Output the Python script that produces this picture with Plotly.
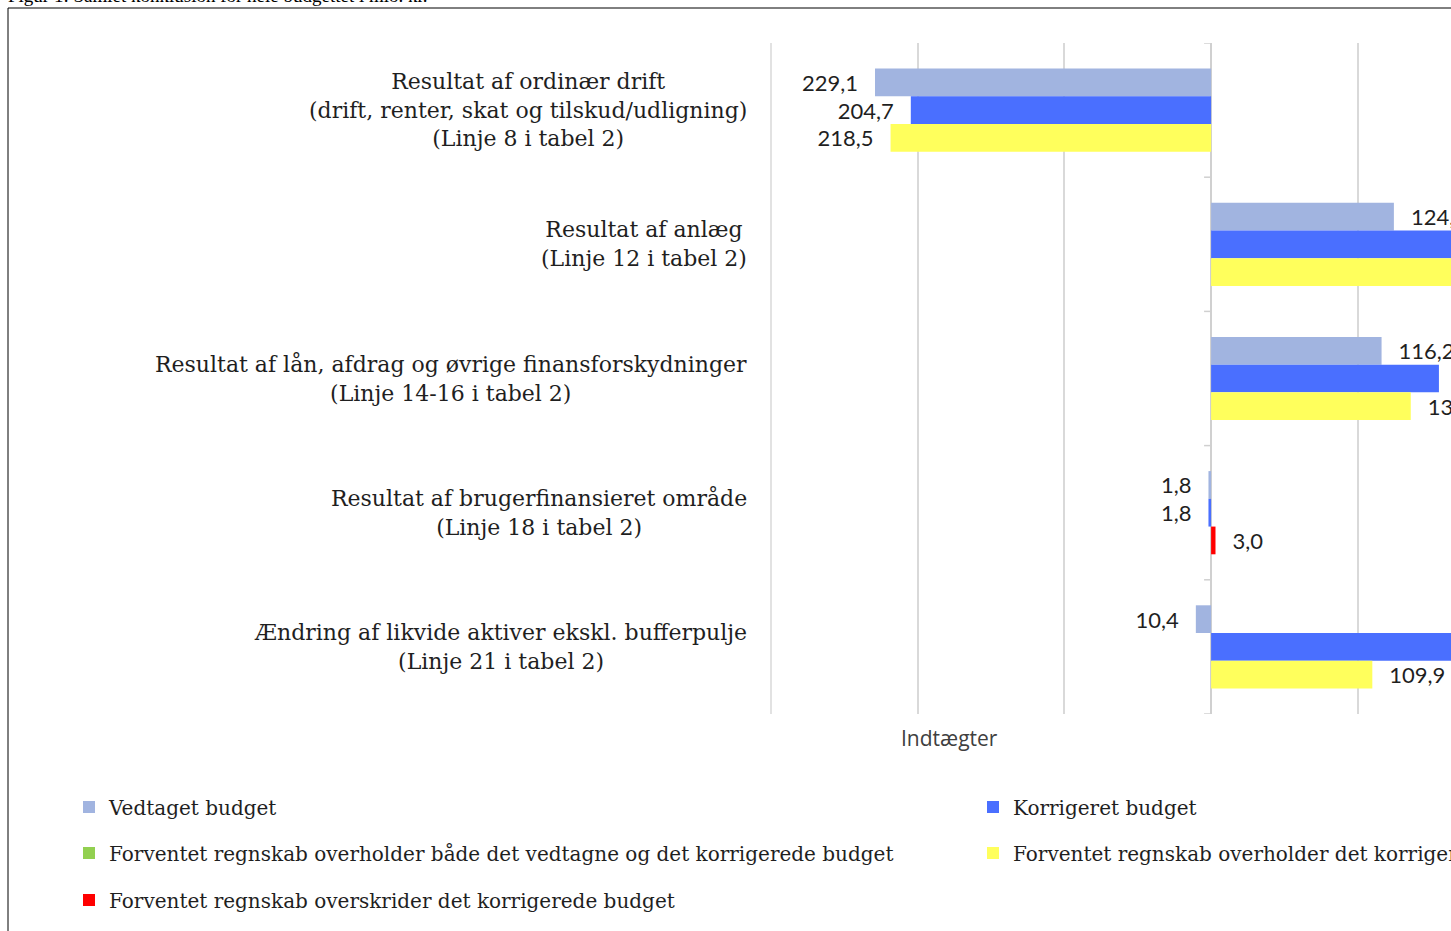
import plotly.graph_objects as go

# ---------------- data ----------------
categories = [
    "Resultat af ordinær drift<br>(drift, renter, skat og tilskud/udligning)<br>(Linje 8 i tabel 2)",
    "Resultat af anlæg<br>(Linje 12 i tabel 2)",
    "Resultat af lån, afdrag og øvrige finansforskydninger<br>(Linje 14-16 i tabel 2)",
    "Resultat af brugerfinansieret område<br>(Linje 18 i tabel 2)",
    "Ændring af likvide aktiver ekskl. bufferpulje<br>(Linje 21 i tabel 2)",
]
# negative = Indtægter (left side), positive = Udgifter (right side)
vedtaget = [-229.1, 124.6, 116.2, -1.8, -10.4]
korrigeret = [-204.7, 213.4, 155.3, -1.8, 188.5]
forventet = [-218.5, 186.0, 136.1, 3.0, 109.9]
forventet_status = ["korr", "korr", "korr", "over", "korr"]  # which legend group each forecast bar belongs to

series_names = {
    "vedtaget": "Vedtaget budget",
    "korrigeret": "Korrigeret budget",
    "begge": "Forventet regnskab overholder både det vedtagne og det korrigerede budget",
    "korr": "Forventet regnskab overholder det korrigerede budget",
    "over": "Forventet regnskab overskrider det korrigerede budget",
}
caption = "Figur 1: Samlet konklusion for hele budgettet i mio. kr."
side_label = "Indtægter"
axis_min = -300

# ---------------- styling ----------------
C_VED = "#A1B4E0"
C_KOR = "#4A6FFF"
C_GREEN = "#92D050"
C_YEL = "#FFFF5C"
C_RED = "#FF0000"
GRID = "#D9D9D9"
SERIF = "DejaVu Serif"
LABEL_FONT = dict(family="Lato", size=22, color="#1F1F1F")

W, H = 1451, 931
L, R, T, B = 770, 0, 43, 217
PW, PH = W - L - R, H - T - B
PX_PER_UNIT = 146.7 / 100
XMIN = axis_min - 1.0 / PX_PER_UNIT
XMAX = XMIN + PW / PX_PER_UNIT


def px_to_paper_x(p):
    return (p - L) / PW


def px_to_paper_y(p):
    return (H - B - p) / PH


def fmt(v):
    if v is None:
        return ""
    s = f"{abs(v):.1f}".replace(".", ",")
    pad = "\u00a0\u00a0\u2009"
    return s + pad if v < 0 else pad + s


fig = go.Figure()


def add_bar(vals, name, color, group, legend):
    fig.add_trace(go.Bar(
        y=categories, x=vals, orientation="h", name=name,
        marker=dict(color=color, line=dict(width=0)),
        offsetgroup=group, legend=legend,
        text=[fmt(v) for v in vals], textposition="outside",
        textfont=LABEL_FONT, cliponaxis=False, constraintext="none",
        showlegend=True,
    ))


add_bar(vedtaget, series_names["vedtaget"], C_VED, "1", "legend")
add_bar(korrigeret, series_names["korrigeret"], C_KOR, "2", "legend2")
green_vals = [None] * len(categories)
add_bar(green_vals, series_names["begge"], C_GREEN, "3", "legend3")
yel_vals = [v if s == "korr" else None for v, s in zip(forventet, forventet_status)]
add_bar(yel_vals, series_names["korr"], C_YEL, "3", "legend4")
red_vals = [v if s == "over" else None for v, s in zip(forventet, forventet_status)]
add_bar(red_vals, series_names["over"], C_RED, "3", "legend5")

# category labels (centered multi-line, right-aligned block)
annotations = []
for i, c in enumerate(categories):
    annotations.append(dict(
        x=0, xref="paper", xanchor="right", xshift=-21,
        y=i, yref="y", yanchor="middle",
        text=c, align="center", showarrow=False,
        font=dict(family=SERIF, size=22, color="#1F1F1F"),
    ))
annotations.append(dict(
    x=-178, xref="x", xanchor="center",
    y=px_to_paper_y(738), yref="paper", yanchor="middle",
    text=side_label, showarrow=False,
    font=dict(family="Open Sans", size=21, color="#404040"),
))
annotations.append(dict(
    x=px_to_paper_x(6), xref="paper", xanchor="left",
    y=px_to_paper_y(-4), yref="paper", yanchor="middle",
    text=caption, showarrow=False,
    font=dict(family="Liberation Serif", size=19, color="#000000"),
))

shapes = []
# gridline at the left end of the value axis
shapes.append(dict(type="line", xref="x", yref="paper",
                   x0=axis_min, x1=axis_min, y0=0, y1=1,
                   line=dict(color=GRID, width=1.5), layer="below"))
# axis tick marks on the zero line
for k in range(len(categories) + 1):
    shapes.append(dict(type="line", xref="x", yref="y",
                       x0=-4.8, x1=0, y0=k - 0.5, y1=k - 0.5,
                       line=dict(color="#D0D0D0", width=1.5)))
# outer frame
shapes.append(dict(type="rect", xref="paper", yref="paper",
                   x0=px_to_paper_x(8), x1=px_to_paper_x(W + 50),
                   y0=px_to_paper_y(H + 50), y1=px_to_paper_y(8),
                   line=dict(color="#000000", width=1), layer="below"))

legend_common = dict(orientation="h", xanchor="left", yanchor="middle",
                     bgcolor="rgba(0,0,0,0)",
                     font=dict(family=SERIF, size=20, color="#1F1F1F"))
leg_pos = {
    "legend": (69, 807), "legend2": (973, 807),
    "legend3": (69, 853), "legend4": (973, 853),
    "legend5": (69, 900),
}
legends = {k: dict(legend_common, x=px_to_paper_x(x), y=px_to_paper_y(y))
           for k, (x, y) in leg_pos.items()}

fig.update_layout(
    width=W, height=H,
    margin=dict(l=L, r=R, t=T, b=B, pad=0, autoexpand=False),
    paper_bgcolor="white", plot_bgcolor="white",
    barmode="group", bargap=0.38, bargroupgap=0,
    xaxis=dict(range=[XMIN, XMAX], tick0=0, dtick=100, showticklabels=False,
               showgrid=True, gridcolor=GRID, gridwidth=1.5,
               zeroline=True, zerolinecolor="#D0D0D0", zerolinewidth=1.5,
               showline=False, ticks=""),
    yaxis=dict(type="category", categoryorder="array", categoryarray=categories,
               range=[len(categories) - 0.5, -0.5], showticklabels=False,
               showgrid=False, zeroline=False, showline=False, ticks=""),
    annotations=annotations, shapes=shapes,
    **legends,
)

fig.write_html(
    "out.html",
    config={"displayModeBar": False},
    post_script="document.body.style.margin='0';document.body.style.overflow='hidden';",
)
